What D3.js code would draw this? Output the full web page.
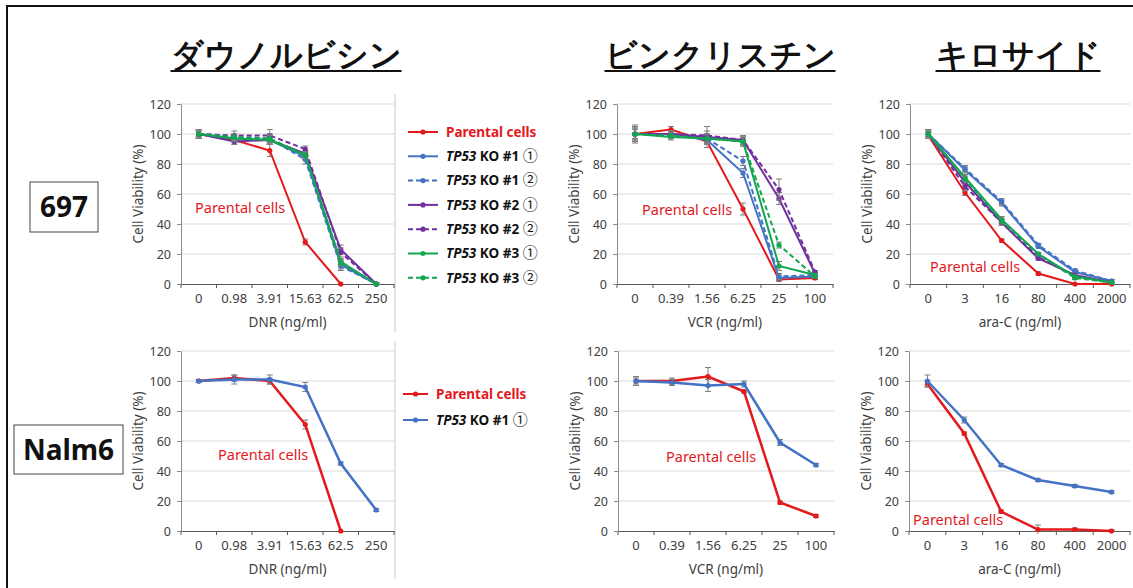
<!DOCTYPE html>
<meta charset="utf-8">
<style>
  body { margin: 0; background: #fff; }
  svg text { font-family: "Noto Sans", sans-serif; }
</style>
<body>
<div id="fig"></div>
<script src="https://cdn.jsdelivr.net/npm/d3@7/dist/d3.min.js"></script>
<script>
  // dose categories (x axis)
  const dnrDoses = ["0", "0.98", "3.91", "15.63", "62.5", "250"];
  const vcrDoses = ["0", "0.39", "1.56", "6.25", "25", "100"];
  const aracDoses = ["0", "3", "16", "80", "400", "2000"];
  const yTicks = [0, 20, 40, 60, 80, 100, 120];

  const seriesNames = ["Parental cells", "KO #1 ①", "KO #1 ②", "KO #2 ①", "KO #2 ②", "KO #3 ①", "KO #3 ②"];
  const seriesColors = ["#e3191c", "#4472c4", "#4472c4", "#7030a0", "#7030a0", "#12a650", "#12a650"];
  const seriesDashed = [false, false, true, false, true, false, true];

  // 697 cells, cell viability (%) - rows follow seriesNames
  const dnr697 = [
    [100, 96, 89, 28, 0, null],
    [100, 97, 96, 85, 13, 0],
    [100, 98, 97, 83, 12, 0],
    [100, 95, 96, 87, 23, 0],
    [100, 99, 99, 90, 21, 0],
    [100, 97, 96, 86, 15, 0],
    [100, 98, 97, 86, 14, 0]
  ];
  const dnr697Err = [
    [2, 2, 4, 2, 0, null],
    [3, 2, 2, 2, 3, 1],
    [3, 2, 3, 3, 3, 1],
    [2, 2, 3, 2, 3, 1],
    [2, 3, 4, 2, 3, 1],
    [3, 2, 3, 2, 2, 1],
    [3, 2, 3, 2, 2, 1]
  ];
  const vcr697 = [
    [100, 103, 95, 50, 3, 4],
    [100, 100, 96, 74, 4, 5],
    [100, 99, 97, 82, 5, 6],
    [100, 100, 98, 96, 57, 7],
    [100, 100, 99, 96, 63, 8],
    [100, 98, 97, 95, 12, 6],
    [100, 99, 97, 95, 26, 5]
  ];
  const vcr697Err = [
    [3, 2, 4, 4, 1, 1],
    [6, 2, 3, 3, 2, 1],
    [5, 2, 3, 3, 2, 1],
    [4, 2, 4, 2, 4, 1],
    [3, 2, 6, 3, 7, 1],
    [4, 2, 3, 3, 3, 1],
    [3, 2, 3, 3, 2, 1]
  ];
  const arac697 = [
    [99, 61, 29, 7, 0, 0],
    [100, 76, 54, 25, 8, 2],
    [100, 77, 55, 26, 9, 2],
    [100, 68, 41, 17, 6, 1],
    [100, 65, 41, 18, 5, 1],
    [100, 71, 43, 20, 5, 1],
    [100, 70, 42, 20, 4, 1]
  ];
  const arac697Err = [
    [2, 2, 1, 1, 0, 0],
    [3, 2, 2, 1, 1, 1],
    [2, 2, 2, 1, 1, 1],
    [2, 2, 2, 1, 1, 0],
    [3, 3, 2, 1, 1, 0],
    [2, 2, 2, 1, 1, 0],
    [3, 2, 2, 1, 1, 0]
  ];

  // Nalm6 cells: parental + KO #1 ①
  const dnrNalm6 = [[100, 102, 100, 71, 0, null], [100, 101, 101, 96, 45, 14]];
  const dnrNalm6Err = [[1, 2, 2, 3, 0, null], [1, 3, 3, 3, 1, 1]];
  const vcrNalm6 = [[100, 100, 103, 93, 19, 10], [100, 99, 97, 98, 59, 44]];
  const vcrNalm6Err = [[2, 2, 6, 1, 1, 1], [3, 2, 4, 2, 2, 1]];
  const aracNalm6 = [[98, 65, 13, 1, 1, 0], [100, 74, 44, 34, 30, 26]];
  const aracNalm6Err = [[2, 1, 1, 3, 1, 1], [4, 2, 1, 1, 1, 1]];

  const drugTitles = ["ダウノルビシン", "ビンクリスチン", "キロサイド"];

  const width = 1133, height = 588;
  const svg = d3.select("#fig").append("svg")
    .attr("width", width)
    .attr("height", height);

  // outer frame
  svg.append("rect")
    .attr("x", 7).attr("y", 6)
    .attr("width", width + 20).attr("height", height + 20)
    .attr("fill", "none").attr("stroke", "#111").attr("stroke-width", 2);

  const allSeries = [0, 1, 2, 3, 4, 5, 6];
  const panels = [
    {doses: dnrDoses, values: dnr697, errors: dnr697Err, series: allSeries, axis: "DNR (ng/ml)", x0: 181, x1: 394, top: 104, bot: 284, label: [195, 208], edge: true},
    {doses: vcrDoses, values: vcr697, errors: vcr697Err, series: allSeries, axis: "VCR (ng/ml)", x0: 617, x1: 833, top: 104, bot: 284, label: [642, 210]},
    {doses: aracDoses, values: arac697, errors: arac697Err, series: allSeries, axis: "ara-C (ng/ml)", x0: 910, x1: 1130, top: 104, bot: 284, label: [930, 267]},
    {doses: dnrDoses, values: dnrNalm6, errors: dnrNalm6Err, series: [0, 1], axis: "DNR (ng/ml)", x0: 181, x1: 394, top: 351, bot: 531, label: [218, 455], edge: true},
    {doses: vcrDoses, values: vcrNalm6, errors: vcrNalm6Err, series: [0, 1], axis: "VCR (ng/ml)", x0: 618, x1: 834, top: 351, bot: 531, label: [666, 457]},
    {doses: aracDoses, values: aracNalm6, errors: aracNalm6Err, series: [0, 1], axis: "ara-C (ng/ml)", x0: 909, x1: 1130, top: 351, bot: 531, label: [913, 520]}
  ];

  panels.forEach(drawPanel);

  function drawPanel(p) {
    const x = d3.scaleBand().domain(p.doses).range([p.x0, p.x1]);
    const y = d3.scaleLinear().domain([0, 120]).range([p.bot, p.top]);
    const cx = (d) => x(d) + x.bandwidth() / 2;
    const thick = p.series.length > 2 ? 2 : 2.5;

    const g = svg.append("g");

    // right edge of the pasted chart
    if (p.edge) {
      g.append("line")
        .attr("x1", p.x1 + 1).attr("x2", p.x1 + 1)
        .attr("y1", p.top - 10).attr("y2", p.bot + 48)
        .attr("stroke", "#c8c8c8");
    }

    // gridlines
    g.append("g").selectAll("line")
      .data(yTicks.slice(1))
      .join("line")
      .attr("x1", p.x0).attr("x2", p.x1)
      .attr("y1", (d) => y(d)).attr("y2", (d) => y(d))
      .attr("stroke", "#d9d9d9");

    // y axis
    const yAxis = g.append("g")
      .attr("transform", `translate(${p.x0},0)`)
      .call(d3.axisLeft(y).tickValues(yTicks).tickSize(4).tickPadding(6).tickSizeOuter(0));
    yAxis.select(".domain").attr("stroke", "#8c8c8c");
    yAxis.selectAll(".tick line").attr("stroke", "#8c8c8c");
    yAxis.selectAll("text").attr("font-size", 12.5).attr("fill", "#404040");

    // x axis (category labels centred, tick marks between categories)
    const xAxis = g.append("g")
      .attr("transform", `translate(0,${p.bot})`)
      .call(d3.axisBottom(x).tickSize(0).tickPadding(10).tickSizeOuter(0));
    xAxis.select(".domain").attr("stroke", "#595959");
    xAxis.selectAll("text").attr("font-size", 13).attr("fill", "#404040");
    g.append("g").selectAll("line")
      .data(p.doses.map((d) => x(d)).concat([p.x1]))
      .join("line")
      .attr("x1", (d) => d).attr("x2", (d) => d)
      .attr("y1", p.bot).attr("y2", p.bot + 4)
      .attr("stroke", "#595959");

    // axis titles
    g.append("text")
      .attr("x", (p.x0 + p.x1) / 2).attr("y", p.bot + 43)
      .attr("text-anchor", "middle")
      .attr("font-size", 13.5).attr("fill", "#404040")
      .text(p.axis);
    g.append("text")
      .attr("transform", `translate(${p.x0 - 43},${(p.top + p.bot) / 2}) rotate(-90)`)
      .attr("text-anchor", "middle")
      .attr("dy", "0.35em")
      .attr("font-size", 13.5).attr("fill", "#404040")
      .text("Cell Viability (%)");

    const line = d3.line()
      .defined((d) => d.v != null)
      .x((d) => cx(d.dose))
      .y((d) => y(d.v));

    p.series.forEach((s, k) => {
      const pts = p.doses.map((dose, i) => ({dose: dose, v: p.values[k][i], e: p.errors[k][i]}));
      const sg = g.append("g");

      // error bars
      const eb = sg.selectAll(".err")
        .data(pts.filter((d) => d.v != null && d.e > 0))
        .join("g")
        .attr("stroke", "#7f7f7f").attr("stroke-width", 1);
      eb.append("line")
        .attr("x1", (d) => cx(d.dose)).attr("x2", (d) => cx(d.dose))
        .attr("y1", (d) => y(d.v - d.e)).attr("y2", (d) => y(d.v + d.e));
      eb.append("line")
        .attr("x1", (d) => cx(d.dose) - 3).attr("x2", (d) => cx(d.dose) + 3)
        .attr("y1", (d) => y(d.v + d.e)).attr("y2", (d) => y(d.v + d.e));
      eb.append("line")
        .attr("x1", (d) => cx(d.dose) - 3).attr("x2", (d) => cx(d.dose) + 3)
        .attr("y1", (d) => y(Math.max(0, d.v - d.e))).attr("y2", (d) => y(Math.max(0, d.v - d.e)));

      sg.append("path")
        .datum(pts)
        .attr("fill", "none")
        .attr("stroke", seriesColors[s])
        .attr("stroke-width", thick)
        .attr("stroke-dasharray", seriesDashed[s] ? "5,3" : null)
        .attr("d", line);

      sg.selectAll("circle")
        .data(pts.filter((d) => d.v != null))
        .join("circle")
        .attr("cx", (d) => cx(d.dose)).attr("cy", (d) => y(d.v))
        .attr("r", 2.6)
        .attr("fill", seriesColors[s]);
    });

    // in-plot label
    g.append("text")
      .attr("x", p.label[0]).attr("y", p.label[1])
      .attr("dy", "0.35em")
      .attr("font-size", 14.5).attr("fill", seriesColors[0])
      .text("Parental cells");
  }

  // legends
  drawLegend(allSeries, 408, 132, 24.3, 30);
  drawLegend([0, 1], 403, 394, 26, 25);

  function drawLegend(series, lx, ly, step, len) {
    const lg = svg.append("g");
    series.forEach((s, i) => {
      const yy = ly + i * step;
      lg.append("line")
        .attr("x1", lx).attr("x2", lx + len)
        .attr("y1", yy).attr("y2", yy)
        .attr("stroke", seriesColors[s]).attr("stroke-width", 2)
        .attr("stroke-dasharray", seriesDashed[s] ? "5,3" : null);
      lg.append("circle")
        .attr("cx", lx + len / 2).attr("cy", yy).attr("r", 2.6)
        .attr("fill", seriesColors[s]);
      const t = lg.append("text")
        .attr("x", lx + len + 8).attr("y", yy)
        .attr("dy", "0.35em")
        .attr("font-size", 13.5).attr("font-weight", 700);
      if (s === 0) {
        t.attr("fill", seriesColors[0]).text(seriesNames[0]);
      } else {
        const parts = seriesNames[s].split(" ");
        t.attr("fill", "#111");
        t.append("tspan").attr("font-style", "italic").text("TP53");
        t.append("tspan").text(" " + parts[0] + " " + parts[1] + " ");
        t.append("tspan")
          .attr("font-family", "'Noto Sans CJK JP'")
          .attr("font-weight", 400)
          .attr("font-size", 15)
          .text(parts[2]);
      }
    });
  }

  // drug titles
  [286, 720, 1018].forEach((tx, i) => {
    const t = svg.append("text")
      .attr("x", tx).attr("y", 66)
      .attr("text-anchor", "middle")
      .attr("font-family", "'Noto Sans CJK JP'")
      .attr("font-weight", 700)
      .attr("font-size", 32)
      .attr("fill", "#111")
      .text(drugTitles[i]);
    const w = t.node().getComputedTextLength();
    svg.append("line")
      .attr("x1", tx - w / 2).attr("x2", tx + w / 2)
      .attr("y1", 71).attr("y2", 71)
      .attr("stroke", "#111").attr("stroke-width", 2);
  });

  // cell line boxes
  const cellLines = [{name: "697", x: 30, y: 182, w: 68, h: 50}, {name: "Nalm6", x: 14, y: 425, w: 109, h: 49}];
  cellLines.forEach((c) => {
    svg.append("rect")
      .attr("x", c.x).attr("y", c.y).attr("width", c.w).attr("height", c.h)
      .attr("fill", "#fff").attr("stroke", "#444").attr("stroke-width", 1);
    svg.append("text")
      .attr("x", c.x + c.w / 2).attr("y", c.y + c.h / 2)
      .attr("dy", "0.36em")
      .attr("text-anchor", "middle")
      .attr("font-size", 28).attr("font-weight", 700)
      .attr("fill", "#111")
      .text(c.name);
  });
</script>
